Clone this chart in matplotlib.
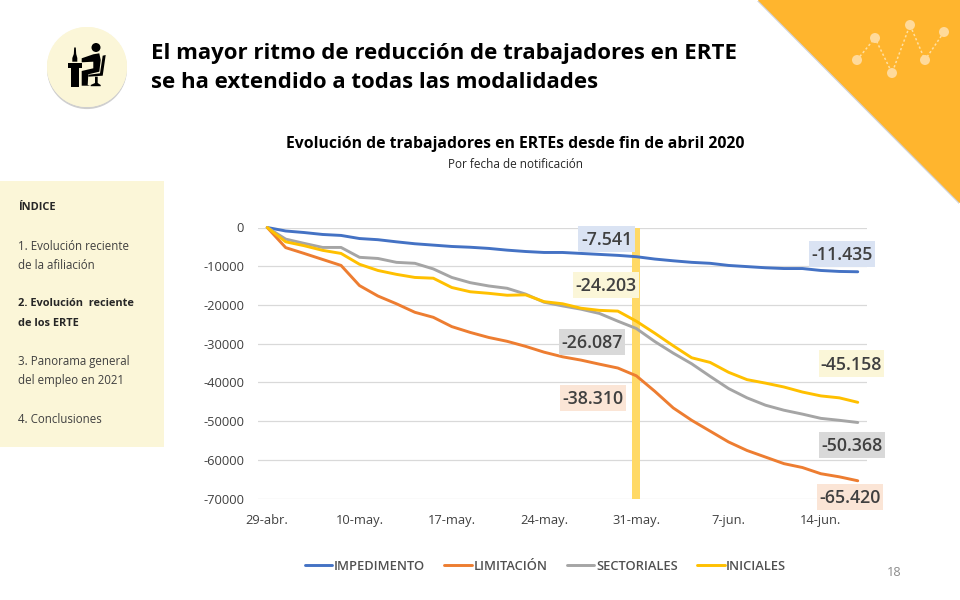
import matplotlib
matplotlib.use("Agg")
import matplotlib.pyplot as plt
from matplotlib.patches import Rectangle, Circle, Polygon
from matplotlib.lines import Line2D
import matplotlib.patheffects as pe

plt.rcParams['font.family'] = ['Open Sans', 'DejaVu Sans']

# ---------- data ----------
tick_labels = ['29-abr.', '10-may.', '17-may.', '24-may.', '31-may.', '7-jun.', '14-jun.']
tick_index = [0, 5, 10, 15, 20, 25, 30]
impedimento = [0, -900, -1300, -1800, -2050, -2850, -3150, -3700, -4200, -4550, -4900, -5100, -5400,
               -5850, -6200, -6450, -6450, -6700, -6950, -7200, -7541, -8150, -8600, -9000, -9250,
               -9800, -10100, -10400, -10600, -10600, -11100, -11350, -11435]
limitacion = [0, -5200, -6700, -8250, -9800, -15000, -17700, -19700, -21900, -23200, -25600, -27100,
              -28400, -29400, -30700, -32200, -33400, -34250, -35300, -36300, -38310, -42300, -46600,
              -49800, -52600, -55400, -57600, -59300, -61000, -62000, -63600, -64400, -65420]
sectoriales = [0, -3000, -4100, -5150, -5150, -7700, -8000, -9000, -9250, -10700, -12900, -14250,
               -15100, -15700, -17200, -19300, -20250, -21100, -22200, -24200, -26087, -29450, -32450,
               -35200, -38450, -41600, -44000, -45900, -47200, -48200, -49300, -49800, -50368]
iniciales = [0, -3700, -4700, -5900, -6700, -9500, -11100, -12100, -12900, -13100, -15500, -16600,
             -17000, -17500, -17400, -19150, -19700, -20850, -21400, -21600, -24203, -27300, -30550,
             -33650, -34850, -37400, -39300, -40200, -41200, -42500, -43500, -44000, -45158]
series_names = ['IMPEDIMENTO', 'LIMITACIÓN', 'SECTORIALES', 'INICIALES']
series_colors = ['#4472C4', '#ED7D31', '#A5A5A5', '#FFC000']
highlight_index = 20
y_ticks = [0, -10000, -20000, -30000, -40000, -50000, -60000, -70000]
index_items = ['ÍNDICE', '1. Evolución reciente', 'de la afiliación', '2. Evolución  reciente',
               'de los ERTE', '3. Panorama general', 'del empleo en 2021', '4. Conclusiones']

W, H = 960, 600
fig = plt.figure(figsize=(W / 100, H / 100), dpi=100, facecolor='white')

# ---------- chart ----------
ax = fig.add_axes([258 / W, 1 - 498.5 / H, (867 - 258) / W, (498.5 - 227.5) / H])
ax.set_facecolor('none')
ax.set_xlim(-0.5, 32.5)
ax.set_ylim(-70000, 0)
ax.bar([highlight_index], [-70000], width=0.44, color='#FFD966', zorder=1)
xs = list(range(len(impedimento)))
all_series = [impedimento, limitacion, sectoriales, iniciales]
handles = []
for vals, col, name in zip(all_series, series_colors, series_names):
    l, = ax.plot(xs, vals, color=col, lw=2.1, label=name, zorder=3,
                 solid_joinstyle='round', solid_capstyle='round', clip_on=False)
    handles.append(l)
ax.set_yticks(y_ticks)
ax.set_yticklabels([str(v) for v in y_ticks])
ax.set_xticks(tick_index)
ax.set_xticklabels(tick_labels)
ax.tick_params(axis='both', length=0, labelsize=9.3, labelcolor='#404040')
ax.tick_params(axis='y', pad=10)
ax.tick_params(axis='x', pad=11.5)
for t in ax.get_xticklabels() + ax.get_yticklabels():
    t.set_fontweight('medium')
ax.grid(axis='y', color='#D9D9D9', lw=0.9, zorder=0)
ax.grid(axis='x', visible=False)
ax.set_axisbelow(True)
for s in ax.spines.values():
    s.set_visible(False)

leg = fig.legend(handles=handles, loc='center', bbox_to_anchor=(545.5 / W, 1 - 566 / H), ncol=4,
                 frameon=False, columnspacing=1.5, handlelength=2.15,
                 handletextpad=0.12, labelcolor='#505050', prop={'size': 9.25, 'weight': 'semibold'})

# ---------- overlay in pixel coordinates ----------
ov = fig.add_axes([0, 0, 1, 1], facecolor='none')
ov.set_xlim(0, W)
ov.set_ylim(H, 0)
ov.axis('off')

# corner triangle with sparkline
tri = Polygon([(758, 0), (960, 0), (960, 203)], closed=True, color='#FFB52E', lw=0,
              path_effects=[pe.withSimplePatchShadow(offset=(-0.6, -0.8), shadow_rgbFace='#999999', alpha=0.45),
                            pe.Normal()])
ov.add_patch(tri)
px = [857, 875, 892, 910, 925, 944]
py = [60, 38, 73, 25, 60, 32]
ov.add_line(Line2D(px, py, color='#FFDFA0', lw=1.1, ls=(0, (1.5, 1.5))))
for a, b in zip(px, py):
    ov.add_patch(Circle((a, b), 5, color='#FFDA9B', lw=0, zorder=4))

# icon
ov.add_patch(Circle((87, 67), 40, color='#FBF6D8', lw=0,
                    path_effects=[pe.withSimplePatchShadow(offset=(0, -1.5), shadow_rgbFace='#888888', alpha=0.4),
                                  pe.Normal()]))
k = '#000000'
ov.add_patch(Circle((96, 47.5), 4.5, color=k, lw=0))
shapes = [
    [(81.7, 58.3), (93.3, 54.3), (99.3, 53.3), (100.7, 60), (99.3, 71.7), (88.3, 74.3), (87.7, 85),
     (90, 85.7), (81.7, 85.7), (81.7, 71), (93.3, 68.3), (93.3, 61.7), (81.7, 62.3)],
    [(102.7, 55.7), (105.7, 55), (102.7, 75.7), (88.3, 76.7), (88.3, 74.8), (100, 73.3)],
    [(95, 76.7), (97.7, 76.7), (97.7, 83), (100.7, 85), (100.7, 86.2), (90.7, 86.2), (90.7, 85), (95, 83)],
    [(68.3, 63.3), (81.7, 63.3), (81.7, 67.7), (68.3, 67.7)],
    [(70.7, 67.7), (79.3, 67.7), (79.3, 86.7), (70.7, 86.7)],
    [(74.2, 47.5), (75.8, 47.5), (76.2, 54), (77.3, 58), (77.3, 61.7), (72.3, 61.7), (72.3, 58), (73.8, 54)],
]
for s in shapes:
    ov.add_patch(Polygon(s, closed=True, color=k, lw=0))

# headline
ov.text(151, 53.5, 'El mayor ritmo de reducción de trabajadores en ERTE', fontsize=16, fontweight='bold',
        color='black', va='center', ha='left')
ov.text(151, 82.5, 'se ha extendido a todas las modalidades', fontsize=16, fontweight='bold',
        color='black', va='center', ha='left')

# chart titles
ov.text(515, 144.5, 'Evolución de trabajadores en ERTEs desde fin de abril 2020', fontsize=11.3,
        fontweight='bold', color='black', ha='center', va='center')
ov.text(515.5, 165, 'Por fecha de notificación', fontsize=8.5, color='#262626', ha='center', va='center')

# sidebar
ov.add_patch(Rectangle((0, 181), 164, 266, color='#FBF6D8', lw=0))
side_y = [208, 246.5, 265.5, 304, 324, 361.5, 380.5, 419.5]
side_bold = [True, False, False, True, True, False, False, False]
for t, y, b in zip(index_items, side_y, side_bold):
    ov.text(18, y, t, fontsize=7.9 if b else 8.3, color='#262626' if b else '#404040', va='center', ha='left',
            fontweight='bold' if b else 'normal')

# data labels
label_boxes = [
    (578, 226, 57, 26, '#DAE3F3', impedimento[20]),
    (809, 241, 66, 26, '#DAE3F3', impedimento[32]),
    (573, 272, 66, 26, '#FBF6D8', iniciales[20]),
    (559, 329, 66, 26, '#D9D9D9', sectoriales[20]),
    (560, 385, 66, 26, '#FBE5D6', limitacion[20]),
    (819, 350, 65, 27, '#FBF6D8', iniciales[32]),
    (819, 432, 66, 26, '#D9D9D9', sectoriales[32]),
    (817, 484, 66, 26, '#FBE5D6', limitacion[32]),
]
for x, y, w, h, c, v in label_boxes:
    ov.add_patch(Rectangle((x, y), w, h, color=c, lw=0))
    ov.text(x + w / 2, y + h / 2 + 1, f'{v:,}'.replace(',', '.'), fontsize=12.8, fontweight='semibold',
            color='#404040', ha='center', va='center')

ov.text(894, 572.5, '18', fontsize=9.2, color='#8C8C8C', ha='center', va='center')

fig.savefig('out.png', dpi=100)
